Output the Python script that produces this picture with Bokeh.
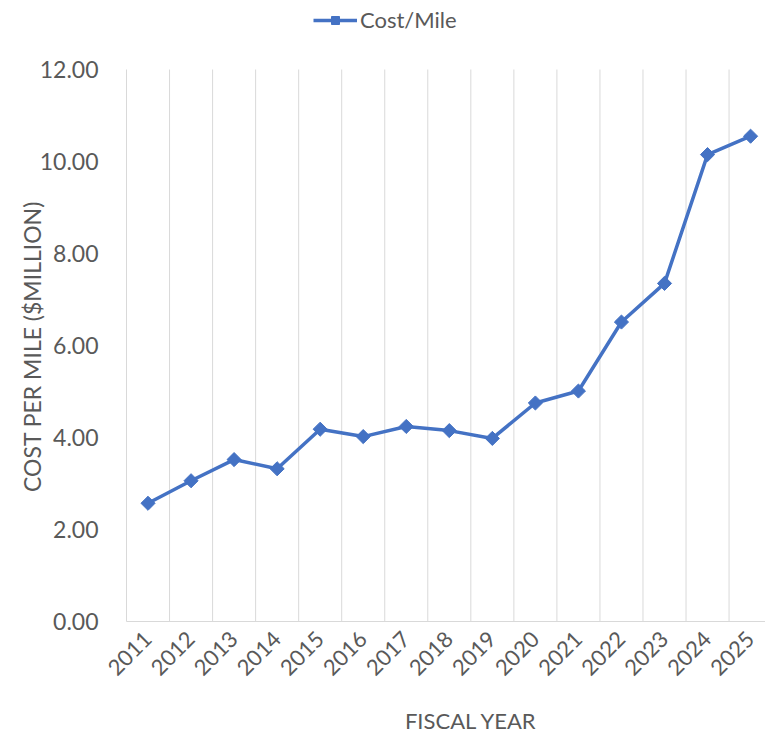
import math
from bokeh.plotting import figure
from bokeh.models import (ColumnDataSource, FixedTicker, Legend, LegendItem,
                          Range1d, NumeralTickFormatter, Label)
from bokeh.embed import file_html
from bokeh.resources import INLINE

years = ["2011", "2012", "2013", "2014", "2015", "2016", "2017", "2018",
         "2019", "2020", "2021", "2022", "2023", "2024", "2025"]
cost_per_mile = [2.57, 3.06, 3.52, 3.32, 4.18, 4.02, 4.24, 4.15,
                 3.98, 4.75, 5.01, 6.51, 7.35, 10.15, 10.55]
y_ticks = [0, 2, 4, 6, 8, 10, 12]

FONT = "Lato"
TXT = "#595959"
BLUE = "#4472C4"
GRID = "#d9d9d9"

# page layout (pixels)
W, H = 765, 733
LEFT = 126            # plot-area left edge
BOTTOM_PX = 621       # pixel row of value 0
PX_PER_UNIT = 46.0    # pixels per value unit
PX_PER_CAT = 43.04    # pixels per category


def px_x(px):
    return (px - LEFT) / PX_PER_CAT - 0.5


def px_y(py):
    return (BOTTOM_PX - py) / PX_PER_UNIT


idx = list(range(len(years)))
src = ColumnDataSource(dict(x=idx, y=cost_per_mile))

bounds = [i - 0.5 for i in range(len(years) + 1)]
grid_src = ColumnDataSource(dict(x=bounds, y0=[min(y_ticks)] * len(bounds),
                                 y1=[max(y_ticks)] * len(bounds)))

p = figure(width=W, height=H, output_backend="svg", toolbar_location=None,
           x_range=Range1d(px_x(0), px_x(W)), y_range=Range1d(px_y(H), px_y(0)),
           min_border_left=0, min_border_right=0, min_border_top=0,
           min_border_bottom=0)
p.outline_line_color = None
p.background_fill_color = "white"
p.xgrid.grid_line_color = None
p.ygrid.grid_line_color = None

p.segment(x0="x", y0="y0", x1="x", y1="y1", source=grid_src,
          line_color=GRID, line_width=1)

r_line = p.line("x", "y", source=src, line_color=BLUE, line_width=3.5)
r_mark = p.scatter("x", "y", source=src, marker="square", size=10,
                   angle=math.pi / 4, fill_color=BLUE, line_color=BLUE)

# x axis, drawn at value 0 across the category span
p.xaxis.fixed_location = 0
p.xaxis.bounds = (bounds[0], bounds[-1])
p.xaxis.ticker = FixedTicker(ticks=idx)
p.xaxis.major_label_overrides = {i: y for i, y in enumerate(years)}
p.xaxis.major_label_orientation = math.pi / 4
p.xaxis.major_tick_line_color = None
p.xaxis.minor_tick_line_color = None
p.xaxis.axis_line_color = GRID
p.xaxis.major_label_text_font = FONT
p.xaxis.major_label_text_font_size = "22px"
p.xaxis.major_label_text_color = TXT
p.xaxis.major_label_standoff = 8

# y axis, drawn at the left edge of the first category
p.yaxis.fixed_location = bounds[0]
p.yaxis.ticker = FixedTicker(ticks=y_ticks)
p.yaxis.formatter = NumeralTickFormatter(format="0.00")
p.yaxis.axis_line_color = None
p.yaxis.major_tick_line_color = None
p.yaxis.minor_tick_line_color = None
p.yaxis.major_label_text_font = FONT
p.yaxis.major_label_text_font_size = "23px"
p.yaxis.major_label_text_color = TXT
p.yaxis.major_label_standoff = 22

yt = Label(x=px_x(31.5), y=px_y(346), text="COST PER MILE ($MILLION)",
           angle=math.pi / 2, text_align="center", text_baseline="middle",
           text_font=FONT, text_font_size="23px", text_color=TXT)
p.add_layout(yt)

xt = Label(x=px_x(470.5), y=px_y(719.5), text="FISCAL YEAR", text_align="center",
           text_baseline="middle", text_font=FONT, text_font_size="22px",
           text_color=TXT)
p.add_layout(xt)

legend = Legend(items=[LegendItem(label="Cost/Mile", renderers=[r_line, r_mark])],
                orientation="horizontal", location=(313, 700),
                label_text_font=FONT, label_text_font_size="22px",
                label_text_color=TXT, glyph_width=44, glyph_height=20,
                label_standoff=3, padding=0, margin=0, spacing=0,
                border_line_color=None, background_fill_alpha=0)
p.add_layout(legend, "center")

open("out.html", "w").write(file_html(p, INLINE))
